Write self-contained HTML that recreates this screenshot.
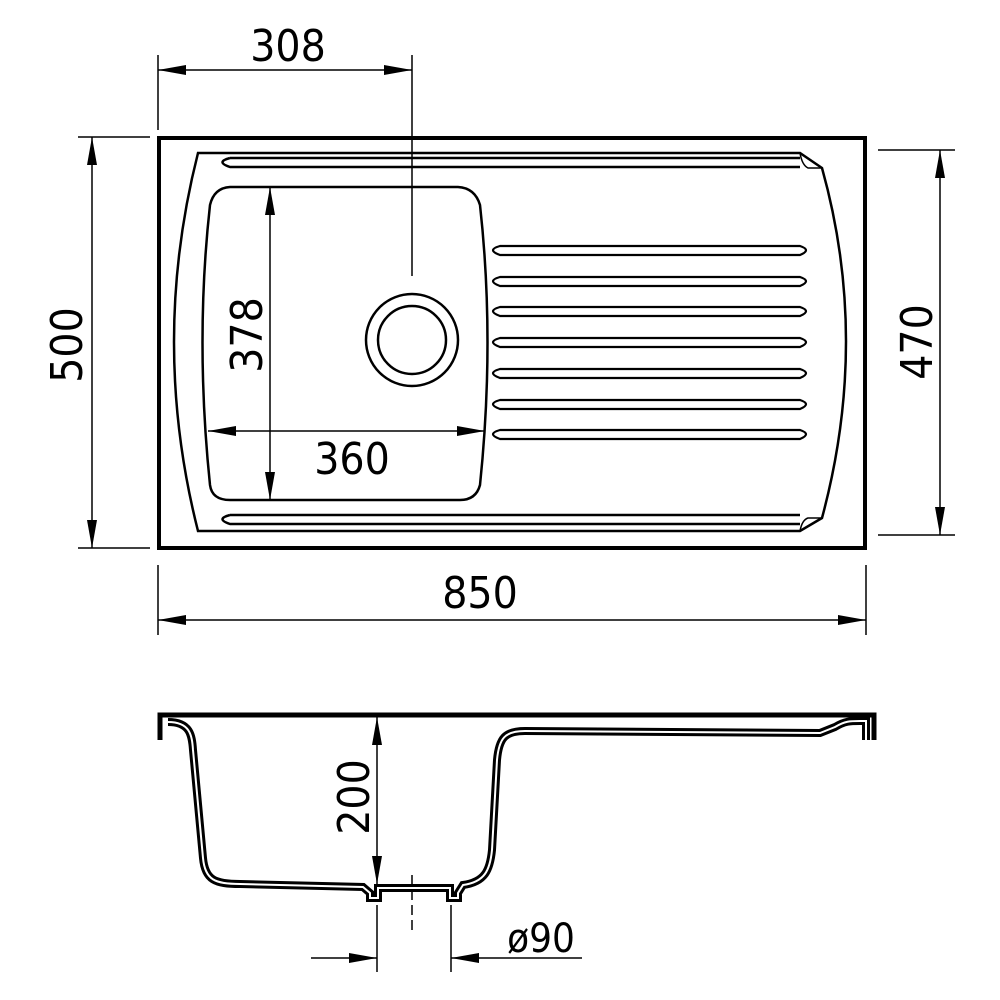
<!DOCTYPE html>
<html><head><style>body{margin:0;background:#fff}svg{display:block}text{font-family:"DejaVu Sans Condensed","DejaVu Sans","Liberation Sans",sans-serif;fill:#000}</style></head>
<body>
<svg width="1000" height="1000" viewBox="0 0 1000 1000" xmlns="http://www.w3.org/2000/svg">
<defs>
<marker id="a" viewBox="0 0 28 10" refX="28" refY="5" markerWidth="28" markerHeight="10" markerUnits="userSpaceOnUse" orient="auto-start-reverse"><path d="M0,0 L28,5 L0,10 Z" fill="#000"/></marker>
</defs>
<g fill="none" stroke="#000">
<rect x="159" y="138" width="706" height="410" stroke-width="4"/>
<path d="M198,153 L800,153 L822,168 Q870,340 822,518 L800,531 L198,531 Q150,342 198,153 Z" stroke-width="2.5"/>
<path d="M800,153 Q802,165 808,168 L822,168 M800,531 Q802,520 808,518 L822,518" stroke-width="1.5"/>
<path d="M230,158 L800,158 M800,167 L230,167 Q215,162 230,158" stroke-width="2.5"/>
<path d="M230,515 L800,515 M800,524 L230,524 Q215,519 230,515" stroke-width="2.5"/>
<path d="M230,187 L458,187 Q475,188 480,205 Q495,340 480,485 Q476,500 460,500 L230,500 Q212,500 210,485 Q195,340 210,205 Q214,188 230,187 Z" stroke-width="2.5"/>
<circle cx="412" cy="340" r="46" stroke-width="2.5"/>
<circle cx="412" cy="340" r="34" stroke-width="2.5"/>
<g stroke-width="2.2">
<path d="M500,246 L800,246 Q812,250 800,255 L500,255 Q486,250 500,246 Z"/>
<path d="M500,277 L800,277 Q812,281 800,286 L500,286 Q486,281 500,277 Z"/>
<path d="M500,307 L800,307 Q812,311 800,316 L500,316 Q486,311 500,307 Z"/>
<path d="M500,338 L800,338 Q812,342 800,347 L500,347 Q486,342 500,338 Z"/>
<path d="M500,369 L800,369 Q812,373 800,378 L500,378 Q486,373 500,369 Z"/>
<path d="M500,400 L800,400 Q812,404 800,409 L500,409 Q486,404 500,400 Z"/>
<path d="M500,430 L800,430 Q812,434 800,439 L500,439 Q486,434 500,430 Z"/>
</g>
<g stroke-width="1.5">
<line x1="412" y1="55" x2="412" y2="276"/>
<line x1="158" y1="55" x2="158" y2="130"/>
<line x1="158" y1="70" x2="412" y2="70" marker-start="url(#a)" marker-end="url(#a)"/>
<line x1="78" y1="137" x2="150" y2="137"/>
<line x1="78" y1="548" x2="150" y2="548"/>
<line x1="92" y1="137" x2="92" y2="548" marker-start="url(#a)" marker-end="url(#a)"/>
<line x1="878" y1="150" x2="955" y2="150"/>
<line x1="878" y1="535" x2="955" y2="535"/>
<line x1="940" y1="150" x2="940" y2="535" marker-start="url(#a)" marker-end="url(#a)"/>
<line x1="158" y1="565" x2="158" y2="635"/>
<line x1="866" y1="565" x2="866" y2="635"/>
<line x1="158" y1="620" x2="866" y2="620" marker-start="url(#a)" marker-end="url(#a)"/>
<line x1="270" y1="187" x2="270" y2="500" marker-start="url(#a)" marker-end="url(#a)"/>
<line x1="208" y1="431" x2="485" y2="431" marker-start="url(#a)" marker-end="url(#a)"/>
</g>
<path d="M160,740 L160,715 L874,715 L874,740" stroke-width="5"/>
<path d="M168,722 C190,722 192,735 193,750 L203,858 C205,880 215,884 240,884 L363,887 L370,893 L370,898 L378,898 L378,888 L450,888 L450,898 L458,898 L458,893 L463,885 C485,882 490,870 492,850 L497,760 C499,738 505,731 525,731 L820,733 L835,727 C845,721 850,721 860,721 L866,721 L866,740" stroke-width="8"/>
<path d="M168,722 C190,722 192,735 193,750 L203,858 C205,880 215,884 240,884 L363,887 L370,893 L370,898 L378,898 L378,888 L450,888 L450,898 L458,898 L458,893 L463,885 C485,882 490,870 492,850 L497,760 C499,738 505,731 525,731 L820,733 L835,727 C845,721 850,721 860,721 L866,721 L866,740" stroke="#fff" stroke-width="2"/>
<g stroke-width="1.5">
<line x1="377" y1="717" x2="377" y2="884" marker-start="url(#a)" marker-end="url(#a)"/>
<line x1="412" y1="875" x2="412" y2="930" stroke-dasharray="10,5"/>
<line x1="377" y1="905" x2="377" y2="972"/>
<line x1="451" y1="905" x2="451" y2="972"/>
<line x1="311" y1="958" x2="377" y2="958" marker-end="url(#a)"/>
<line x1="582" y1="958" x2="451" y2="958" marker-end="url(#a)"/>
</g>
</g>
<g font-size="44">
<text x="288" y="61" text-anchor="middle">308</text>
<text x="480" y="608" text-anchor="middle">850</text>
<text x="352" y="474" text-anchor="middle">360</text>
<text transform="translate(82,345) rotate(-90)" text-anchor="middle">500</text>
<text transform="translate(932,342) rotate(-90)" text-anchor="middle">470</text>
<text transform="translate(262,335) rotate(-90)" text-anchor="middle">378</text>
<text transform="translate(369,797) rotate(-90)" text-anchor="middle">200</text>
<text x="541" y="952" text-anchor="middle" font-size="40">ø90</text>
</g>
</svg>
</body></html>
